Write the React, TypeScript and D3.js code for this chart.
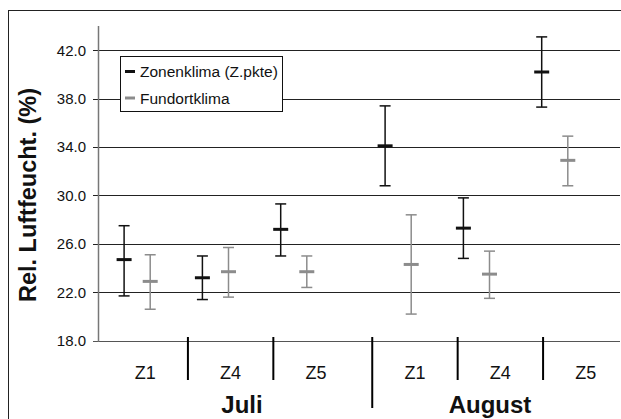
import React from "react";
import * as d3 from "d3";

// Relative humidity per month and zone: mean with lower/upper error bounds
const months = ["Juli", "August"];
const zones = ["Z1", "Z4", "Z5"];

const zonenX = [1, 4, 7, 11, 14, 17];
const zonenMean = [24.7, 23.2, 27.2, 34.1, 27.3, 40.2];
const zonenLow = [21.7, 21.4, 25.0, 30.8, 24.8, 37.3];
const zonenHigh = [27.5, 25.0, 29.3, 37.4, 29.8, 43.1];

const fundX = [2, 5, 8, 12, 15, 18];
const fundMean = [22.9, 23.7, 23.7, 24.3, 23.5, 32.9];
const fundLow = [20.6, 21.6, 22.4, 20.2, 21.5, 30.8];
const fundHigh = [25.1, 25.7, 25.0, 28.4, 25.4, 34.9];

const yTicks = [18, 22, 26, 30, 34, 38, 42];

const seriesNames = ["Zonenklima (Z.pkte)", "Fundortklima"];
const seriesColors = ["#111111", "#8c8c8c"];

const W = 621;
const H = 419;
const left = 98;
const right = 620;
const top = 26;
const bottom = 340.7;

const FONT = "'Liberation Sans', Arial, sans-serif";

export default function App() {
  const y = d3.scaleLinear().domain([18, 44]).range([bottom, top]);
  const x = d3.scaleLinear().domain([0, 20]).range([left, right]);
  const monthScale = d3
    .scaleBand<string>()
    .domain(months)
    .range([102.5, 628.5])
    .paddingInner(0.05);
  const zoneScale = d3
    .scaleBand<string>()
    .domain(zones)
    .range([0, monthScale.bandwidth()]);
  // month captions sit centred on the visible part of each month group
  const monthLabel = d3.scalePoint<string>().domain(months).range([242, 490]);

  const series = [
    { xs: zonenX, mean: zonenMean, low: zonenLow, high: zonenHigh, color: seriesColors[0] },
    { xs: fundX, mean: fundMean, low: fundLow, high: fundHigh, color: seriesColors[1] },
  ];

  return (
    <svg
      width={W}
      height={H}
      style={{ position: "absolute", left: 0, top: 0, background: "#fff" }}
      fontFamily={FONT}
    >
      {/* outer frame */}
      <rect x={8.5} y={10.5} width={640} height={440} fill="#fff" stroke="#222" strokeWidth={1} />

      {/* gridlines and y ticks */}
      {yTicks.map((t) => (
        <g key={t}>
          <line
            x1={left - 5}
            x2={right}
            y1={Math.round(y(t)) + 0.5}
            y2={Math.round(y(t)) + 0.5}
            stroke={t === 18 ? "#555" : "#222"}
            strokeWidth={1}
          />
          <text
            x={86}
            y={y(t)}
            dy="0.36em"
            textAnchor="end"
            fontSize={15}
            fill="#111"
          >
            {t.toFixed(1)}
          </text>
        </g>
      ))}

      {/* y axis */}
      <line x1={left + 0.5} x2={left + 0.5} y1={top} y2={bottom + 1} stroke="#777" strokeWidth={1.5} />

      {/* category axis separators and labels */}
      {months.map((m, mi) => {
        const m0 = monthScale(m) ?? 0;
        return (
          <g key={m}>
            {mi > 0 && (
              <line x1={m0} x2={m0} y1={337} y2={408} stroke="#000" strokeWidth={2} />
            )}
            {zones.map((z, zi) => {
              const z0 = m0 + (zoneScale(z) ?? 0);
              return (
                <g key={z}>
                  {zi > 0 && (
                    <line x1={z0} x2={z0} y1={337} y2={380} stroke="#000" strokeWidth={2} />
                  )}
                  <text
                    x={z0 + zoneScale.bandwidth() / 2}
                    y={373}
                    dy="0.36em"
                    textAnchor="middle"
                    fontSize={18}
                    fill="#111"
                  >
                    {z}
                  </text>
                </g>
              );
            })}
            <text
              x={monthLabel(m)}
              y={404}
              dy="0.36em"
              textAnchor="middle"
              fontSize={24}
              fontWeight="bold"
              fill="#111"
            >
              {m}
            </text>
          </g>
        );
      })}

      {/* y axis title */}
      <text
        transform={`translate(28, 195) rotate(-90)`}
        textAnchor="middle"
        dy="0.36em"
        fontSize={23.5}
        fontWeight="bold"
        fill="#111"
      >
        Rel. Luftfeucht. (%)
      </text>

      {/* error bars */}
      {series.map((s, si) => (
        <g key={si} stroke={s.color}>
          {s.xs.map((xv, i) => {
            const cx = x(xv);
            return (
              <g key={i}>
                <line x1={cx} x2={cx} y1={y(s.low[i])} y2={y(s.high[i])} strokeWidth={1.5} />
                <line x1={cx - 5.5} x2={cx + 5.5} y1={y(s.low[i])} y2={y(s.low[i])} strokeWidth={1.5} />
                <line x1={cx - 5.5} x2={cx + 5.5} y1={y(s.high[i])} y2={y(s.high[i])} strokeWidth={1.5} />
                <line x1={cx - 7.5} x2={cx + 7.5} y1={y(s.mean[i])} y2={y(s.mean[i])} strokeWidth={3} />
              </g>
            );
          })}
        </g>
      ))}

      {/* legend */}
      <g>
        <rect x={120.5} y={56.5} width={162} height={55} fill="#fff" stroke="#111" strokeWidth={1} />
        {seriesNames.map((name, i) => (
          <g key={name} transform={`translate(0, ${71.5 + i * 26.5})`}>
            <line x1={125} x2={135} y1={0} y2={0} stroke={seriesColors[i]} strokeWidth={3} />
            <text x={140} y={0} dy="0.36em" fontSize={15.5} fill="#111">
              {name}
            </text>
          </g>
        ))}
      </g>
    </svg>
  );
}
